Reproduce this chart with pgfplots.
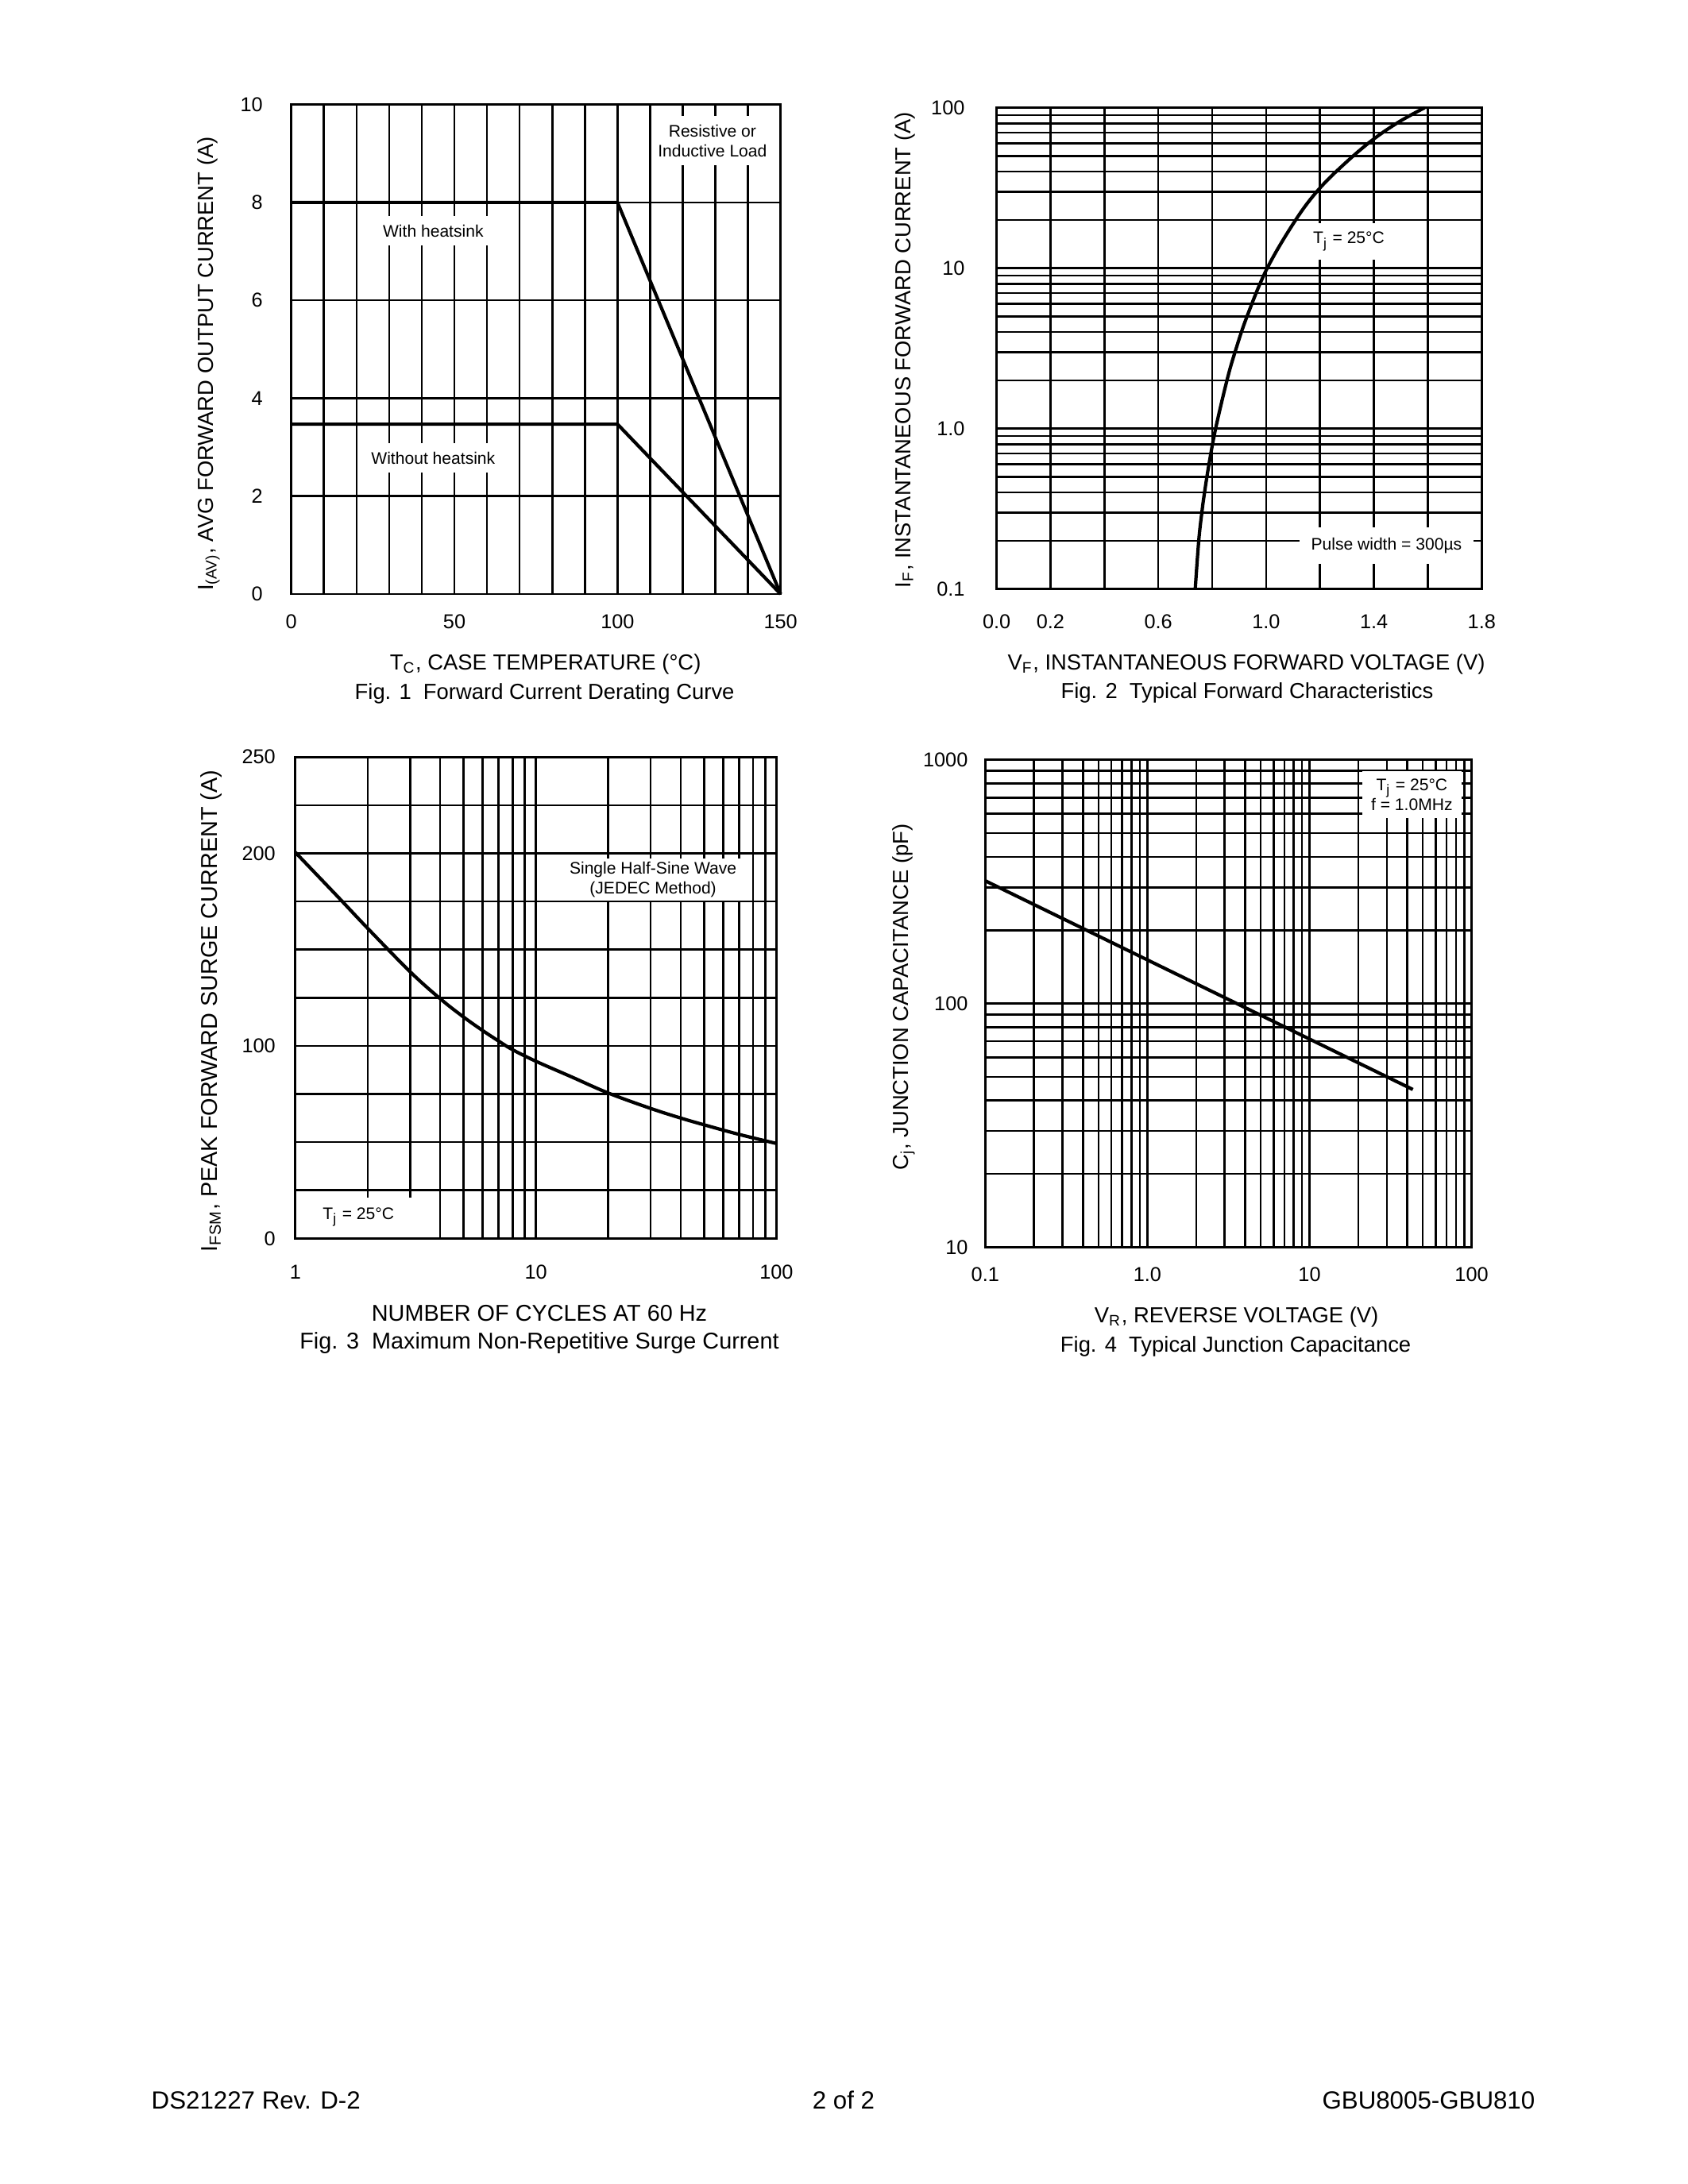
\documentclass[border=0pt]{standalone}
\usepackage{fontspec}
\setmainfont{Liberation Sans}
\usepackage{pgfplots}
\pgfplotsset{compat=1.18}
\newcommand\lab{\fontsize{7.8}{9.5}\selectfont}
\newcommand\labc{\fontsize{8.2}{10}\selectfont}
\newcommand\ann{\fontsize{6}{7.2}\selectfont}
\pgfplotsset{gbu/.style={
  scale only axis, anchor=north west, clip=false,
  axis line style={line width=0.75pt},
  grid=both,
  major grid style={black,line width=0.75pt},
  minor grid style={black,line width=0.75pt},
  major tick length=0pt, minor tick length=0pt,
  tick label style={font=\fontsize{7.2}{8}\selectfont},
  /pgf/number format/assume math mode=true,
}}
\begin{document}
\begin{tikzpicture}
\path[use as bounding box] (0,0) rectangle (21.25cm,-27.5cm);

% ---------- Fig 1 ----------
\begin{axis}[gbu, at={(3.667cm,-1.316cm)}, width=6.16cm, height=6.164cm,
  xmin=0, xmax=150, ymin=0, ymax=10,
  xtick={0,50,100,150}, minor xtick={10,20,30,40,60,70,80,90,110,120,130,140},
  ytick={0,2,4,6,8,10},
  xticklabel style={yshift=-3.8pt}, yticklabel style={xshift=-6.7pt}]
\addplot[black, line width=1.2pt] coordinates {(0,8) (100,8) (150,0)};
\addplot[black, line width=1.2pt] coordinates {(0,3.47) (100,3.47) (150,0)};
\node[fill=white, inner xsep=6pt, inner ysep=3pt, font=\ann] at (axis cs:43.5,7.42) {With heatsink};
\node[fill=white, inner xsep=1pt, inner ysep=3pt, font=\ann] at (axis cs:43.5,2.78) {Without heatsink};
\node[fill=white, inner xsep=1.5pt, inner ysep=3pt, align=center, font=\ann] at (axis cs:129.1,9.26) {Resistive or\\Inductive Load};
\end{axis}

% ---------- Fig 2 ----------
\begin{axis}[gbu, at={(12.546cm,-1.357cm)}, width=6.107cm, height=6.061cm,
  xmin=0, xmax=1.8, ymode=log, ymin=0.1, ymax=100,
  xtick={0,0.2,0.6,1.0,1.4,1.8}, xticklabels={0.0,0.2,0.6,1.0,1.4,1.8},
  minor xtick={0.4,0.8,1.2,1.6},
  ytick={0.1,1,10,100}, yticklabels={0.1,1.0,10,100},
  minor ytick={0.2,0.3,0.4,0.5,0.6,0.7,0.8,0.9,2,3,4,5,6,7,8,9,20,30,40,50,60,70,80,90},
  xticklabel style={yshift=-5.6pt}, yticklabel style={xshift=-7.9pt}]
\addplot[black, line width=1.2pt, smooth, tension=0.6] coordinates {
 (0.737,0.1) (0.750,0.2) (0.7615,0.3) (0.7715,0.4) (0.788,0.6) (0.8126,1.0)
 (0.8547,2) (0.8846,3) (0.929,5) (1.004,10) (1.1097,20) (1.1952,31) (1.2924,45)
 (1.3946,63) (1.4946,82) (1.588,100)};
\node[fill=white, minimum width=1.15cm, minimum height=0.46cm, inner sep=0pt, font=\ann] at (axis cs:1.307,14.7) {T\textsubscript{j} = 25°C};
\node[fill=white, minimum width=2.19cm, minimum height=0.46cm, inner sep=0pt, font=\ann] at (axis cs:1.4466,0.1875) {Pulse width = 300µs};
\end{axis}

% ---------- Fig 3 ----------
\begin{axis}[gbu, at={(3.718cm,-9.532cm)}, width=6.056cm, height=6.061cm,
  xmode=log, xmin=1, xmax=100, ymin=0, ymax=250,
  xtick={1,10,100}, xticklabels={1,10,100},
  minor xtick={2,3,4,5,6,7,8,9,20,30,40,50,60,70,80,90},
  ytick={0,100,200,250}, minor ytick={25,50,75,125,150,175,225},
  xticklabel style={yshift=-6.1pt}, yticklabel style={xshift=-3.6pt}]
\addplot[black, line width=1.2pt, smooth, tension=0.6] coordinates {
 (1,200.5) (1.5,177.5) (2,161) (3,138.5) (4,124.5) (5,115) (6,108) (7,102.5)
 (8,98) (10,92) (14,84) (20,75.5) (30,67.5) (40,62.5) (50,59) (70,54) (100,49.3)};
\node[fill=white, minimum width=2.4cm, minimum height=0.53cm, inner sep=0pt, align=center, font=\ann] at (axis cs:30.7,186.4) {Single Half-Sine Wave\\(JEDEC Method)};
\node[fill=white, minimum width=1.47cm, minimum height=0.5cm, inner sep=0pt, font=\ann] at (axis cs:1.83,11.06) {T\textsubscript{j} = 25°C};
\end{axis}

% ---------- Fig 4 ----------
\begin{axis}[gbu, at={(12.403cm,-9.567cm)}, width=6.123cm, height=6.138cm,
  xmode=log, ymode=log, xmin=0.1, xmax=100, ymin=10, ymax=1000,
  xtick={0.1,1,10,100}, xticklabels={0.1,1.0,10,100},
  minor xtick={0.2,0.3,0.4,0.5,0.6,0.7,0.8,0.9,2,3,4,5,6,7,8,9,20,30,40,50,60,70,80,90},
  ytick={10,100,1000}, yticklabels={10,100,1000},
  minor ytick={20,30,40,50,60,70,80,90,200,300,400,500,600,700,800,900},
  xticklabel style={yshift=-3.7pt}, yticklabel style={xshift=-2.7pt}]
\addplot[black, line width=1.2pt] coordinates {(0.1,319) (43.4,44.4)};
\node[fill=white, minimum width=1.25cm, minimum height=0.59cm, inner sep=0pt, align=center, font=\ann] at (axis cs:42.8,720) {T\textsubscript{j} = 25°C\\f = 1.0MHz};
\end{axis}

% ---------- labels ----------
\node[rotate=90, anchor=base, font=\lab] at (2.683cm,-4.58cm) {I\textsubscript{(AV)}, AVG FORWARD OUTPUT CURRENT (A)};
\node[anchor=base, font=\lab] at (6.866cm,-8.439cm) {T\textsubscript{C}, CASE TEMPERATURE (°C)};
\node[anchor=base, font=\lab] at (6.856cm,-8.806cm) {Fig. 1\ \ Forward Current Derating Curve};

\node[rotate=90, anchor=base, font=\lab] at (11.46cm,-4.406cm) {I\textsubscript{F}, INSTANTANEOUS FORWARD CURRENT (A)};
\node[anchor=base, font=\lab] at (15.69cm,-8.439cm) {V\textsubscript{F}, INSTANTANEOUS FORWARD VOLTAGE (V)};
\node[anchor=base, font=\lab] at (15.70cm,-8.796cm) {Fig. 2\ \ Typical Forward Characteristics};

\node[rotate=90, anchor=base, font=\labc] at (2.734cm,-12.73cm) {I\textsubscript{FSM}, PEAK FORWARD SURGE CURRENT (A)};
\node[anchor=base, font=\labc] at (6.79cm,-16.639cm) {NUMBER OF CYCLES AT 60 Hz};
\node[anchor=base, font=\labc] at (6.79cm,-16.98cm) {Fig. 3\ \ Maximum Non-Repetitive Surge Current};

\node[rotate=90, anchor=base, font=\lab] at (11.434cm,-12.555cm) {C\textsubscript{j}, JUNCTION CAPACITANCE (pF)};
\node[anchor=base, font=\lab] at (15.566cm,-16.659cm) {V\textsubscript{R}, REVERSE VOLTAGE (V)};
\node[anchor=base, font=\lab] at (15.556cm,-17.02cm) {Fig. 4\ \ Typical Junction Capacitance};

% ---------- footer ----------
\node[anchor=base west, inner sep=0pt, font=\fontsize{8.9}{10}\selectfont] at (1.90cm,-26.55cm) {DS21227 Rev. D-2};
\node[anchor=base, inner sep=0pt, font=\fontsize{8.9}{10}\selectfont] at (10.62cm,-26.55cm) {2 of 2};
\node[anchor=base east, inner sep=0pt, font=\fontsize{8.9}{10}\selectfont] at (19.33cm,-26.55cm) {GBU8005-GBU810};
\end{tikzpicture}
\end{document}
